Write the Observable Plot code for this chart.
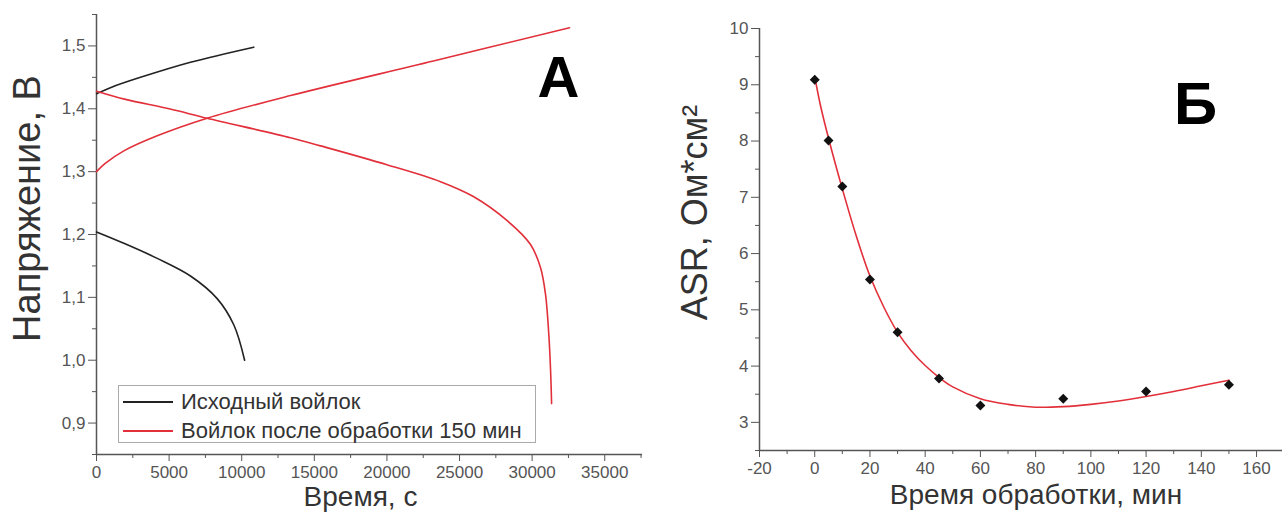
<!DOCTYPE html>
<html>
<head>
<meta charset="utf-8">
<script src="https://cdn.jsdelivr.net/npm/d3@7"></script>
<script src="https://cdn.jsdelivr.net/npm/@observablehq/plot@0.6"></script>
<style>
  html, body { margin: 0; padding: 0; background: #fff; }
  #wrap { position: relative; width: 1284px; height: 524px; overflow: hidden; font-family: "Liberation Sans", Arial, sans-serif; }
  #left, #right { position: absolute; top: 0; }
  #left { left: 0; }
  #right { left: 650px; }
  #legend { position: absolute; left: 118px; top: 385px; width: 418px; height: 58px; border: 1.5px solid #aaa; background: #fff; box-sizing: border-box; }
  .row { position: absolute; left: 4px; height: 29px; display: flex; align-items: center; font-size: 22px; color: #333; white-space: nowrap; }
  .swatch { width: 50px; height: 0; border-top: 2px solid; margin-right: 8px; }
</style>
</head>
<body>
<div id="wrap">
  <div id="left"></div>
  <div id="right"></div>
  <div id="legend"></div>
</div>
<script>
// ---------- Panel A data ----------
const seriesNames = ["Исходный войлок", "Войлок после обработки 150 мин"];
const seriesColors = ["#222222", "#e2303a"];

const blackChargeT = [0, 1000, 3030, 6470, 10830];
const blackChargeV = [1.424, 1.434, 1.450, 1.474, 1.498];

const blackDisT = [0, 1880, 4180, 6470, 8310, 9460, 10200];
const blackDisV = [1.204, 1.186, 1.162, 1.134, 1.098, 1.056, 1.000];

const redChargeT = [0, 600, 1880, 4180, 7620, 13360, 23200, 32575];
const redChargeV = [1.300, 1.313, 1.333, 1.357, 1.385, 1.421, 1.476, 1.529];

const redDisT = [0, 2000, 5000, 7620, 13360, 15430, 20000, 23690, 25980, 28280, 29890, 30580, 30920, 31150, 31270, 31340];
const redDisV = [1.428, 1.415, 1.400, 1.385, 1.354, 1.341, 1.311, 1.284, 1.260, 1.222, 1.184, 1.147, 1.105, 1.040, 0.984, 0.931];

const aXTicks = [0, 5000, 10000, 15000, 20000, 25000, 30000, 35000];
const aXMinor = [2500, 7500, 12500, 17500, 22500, 27500, 32500, 37500];
const aYTicks = [0.9, 1.0, 1.1, 1.2, 1.3, 1.4, 1.5];
const aYMinor = [0.85, 0.95, 1.05, 1.15, 1.25, 1.35, 1.45, 1.55];

// ---------- Panel Б data ----------
const minutes = [0, 5, 10, 20, 30, 45, 60, 90, 120, 150];
const asr = [9.09, 8.01, 7.19, 5.54, 4.60, 3.78, 3.30, 3.42, 3.55, 3.67];

const fitMinutes = [0, 2, 5, 10, 15, 20, 25, 30, 35, 40, 45, 50, 60, 70, 80, 90, 100, 110, 120, 130, 140, 150];
const fitASR = [9.15, 8.65, 8.05, 7.15, 6.32, 5.60, 5.05, 4.60, 4.27, 4.01, 3.80, 3.63, 3.42, 3.32, 3.27, 3.28, 3.32, 3.38, 3.46, 3.55, 3.65, 3.75];

const bXTicks = [-20, 0, 20, 40, 60, 80, 100, 120, 140, 160];
const bXMinor = [-10, 10, 30, 50, 70, 90, 110, 130, 150];
const bYTicks = [3, 4, 5, 6, 7, 8, 9, 10];
const bYMinor = [2.5, 3.5, 4.5, 5.5, 6.5, 7.5, 8.5, 9.5];

// ---------- helpers ----------
const zip = (xs, ys) => xs.map((x, i) => ({x, y: ys[i]}));
const FONT = '"Liberation Sans", Arial, sans-serif';
const tickColor = "#555";
const titleColor = "#333";
const comma = d => d.toFixed(1).replace(".", ",");
const plain = d => String(d);
const blank = () => "";

// ---------- Panel A ----------
const plotA = Plot.plot({
  width: 650, height: 524,
  marginLeft: 96, marginRight: 8, marginTop: 14, marginBottom: 70,
  style: {fontFamily: FONT, fontSize: "17px", background: "#fff"},
  x: {domain: [0, 37600], label: null},
  y: {domain: [0.85, 1.55], label: null},
  marks: [
    Plot.axisX(aXTicks, {tickSize: 7, tickPadding: 4, stroke: tickColor, fill: tickColor, fontSize: 17, tickFormat: plain, label: null}),
    Plot.axisX(aXMinor, {tickSize: 4, stroke: tickColor, tickFormat: blank, label: null}),
    Plot.axisY(aYTicks, {tickSize: 8, tickPadding: 3, stroke: tickColor, fill: tickColor, fontSize: 17, tickFormat: comma, label: null}),
    Plot.axisY(aYMinor, {tickSize: 4, stroke: tickColor, tickFormat: blank, label: null}),
    Plot.ruleX([0], {stroke: "#555", strokeWidth: 1.5}),
    Plot.ruleY([0.85], {stroke: "#555", strokeWidth: 1.5}),
    Plot.line(zip(blackChargeT, blackChargeV), {x: "x", y: "y", stroke: seriesColors[0], strokeWidth: 1.6, curve: "catmull-rom"}),
    Plot.line(zip(blackDisT, blackDisV), {x: "x", y: "y", stroke: seriesColors[0], strokeWidth: 1.6, curve: "catmull-rom"}),
    Plot.line(zip(redChargeT, redChargeV), {x: "x", y: "y", stroke: seriesColors[1], strokeWidth: 1.6, curve: "catmull-rom"}),
    Plot.line(zip(redDisT, redDisV), {x: "x", y: "y", stroke: seriesColors[1], strokeWidth: 1.6, curve: "catmull-rom"}),
    Plot.text(["Напряжение, В"], {text: d => d, frameAnchor: "left", textAnchor: "middle", lineAnchor: "middle", dx: -69, dy: -26, rotate: -90, fontSize: 38, fill: titleColor}),
    Plot.text(["Время, с"], {text: d => d, frameAnchor: "bottom", textAnchor: "middle", lineAnchor: "middle", dx: -9, dy: 43, fontSize: 28, fill: titleColor}),
    Plot.text(["А"], {text: d => d, frameAnchor: "top-left", textAnchor: "middle", lineAnchor: "middle", dx: 462, dy: 64, fontSize: 58, fontWeight: "bold", fill: "#000"})
  ]
});
document.getElementById("left").appendChild(plotA);

// ---------- Panel Б ----------
const plotB = Plot.plot({
  width: 634, height: 524,
  marginLeft: 109, marginRight: 2, marginTop: 28, marginBottom: 74,
  style: {fontFamily: FONT, fontSize: "17px", background: "#fff"},
  x: {domain: [-20, 169.4], label: null},
  y: {domain: [2.5, 10], label: null},
  marks: [
    Plot.axisX(bXTicks, {tickSize: 7, tickPadding: 4, stroke: tickColor, fill: tickColor, fontSize: 17, tickFormat: plain, label: null}),
    Plot.axisX(bXMinor, {tickSize: 4, stroke: tickColor, tickFormat: blank, label: null}),
    Plot.axisY(bYTicks, {tickSize: 8, tickPadding: 3, stroke: tickColor, fill: tickColor, fontSize: 17, tickFormat: plain, label: null}),
    Plot.axisY(bYMinor, {tickSize: 4, stroke: tickColor, tickFormat: blank, label: null}),
    Plot.ruleX([-20], {stroke: "#555", strokeWidth: 1.5}),
    Plot.ruleY([2.5], {stroke: "#555", strokeWidth: 1.5}),
    Plot.line(zip(fitMinutes, fitASR), {x: "x", y: "y", stroke: seriesColors[1], strokeWidth: 1.6, curve: "catmull-rom"}),
    Plot.dot(zip(minutes, asr), {x: "x", y: "y", symbol: "diamond2", r: 4.5, fill: "#111", stroke: "none"}),
    Plot.text(["ASR, Ом*см²"], {text: d => d, frameAnchor: "left", textAnchor: "middle", lineAnchor: "middle", dx: -64, dy: -27, rotate: -90, fontSize: 36, fill: titleColor}),
    Plot.text(["Время обработки, мин"], {text: d => d, frameAnchor: "bottom", textAnchor: "middle", lineAnchor: "middle", dx: 15, dy: 45, fontSize: 28, fill: titleColor}),
    Plot.text(["Б"], {text: d => d, frameAnchor: "top-left", textAnchor: "middle", lineAnchor: "middle", dx: 436, dy: 76, fontSize: 60, fontWeight: "bold", fill: "#000"})
  ]
});
document.getElementById("right").appendChild(plotB);

// ---------- Legend ----------
const legend = document.getElementById("legend");
seriesNames.forEach((name, i) => {
  const row = document.createElement("div");
  row.className = "row";
  row.style.top = (1 + i * 29) + "px";
  const sw = document.createElement("div");
  sw.className = "swatch";
  sw.style.borderTopColor = seriesColors[i];
  const label = document.createElement("span");
  label.textContent = name;
  row.appendChild(sw);
  row.appendChild(label);
  legend.appendChild(row);
});
</script>
</body>
</html>
